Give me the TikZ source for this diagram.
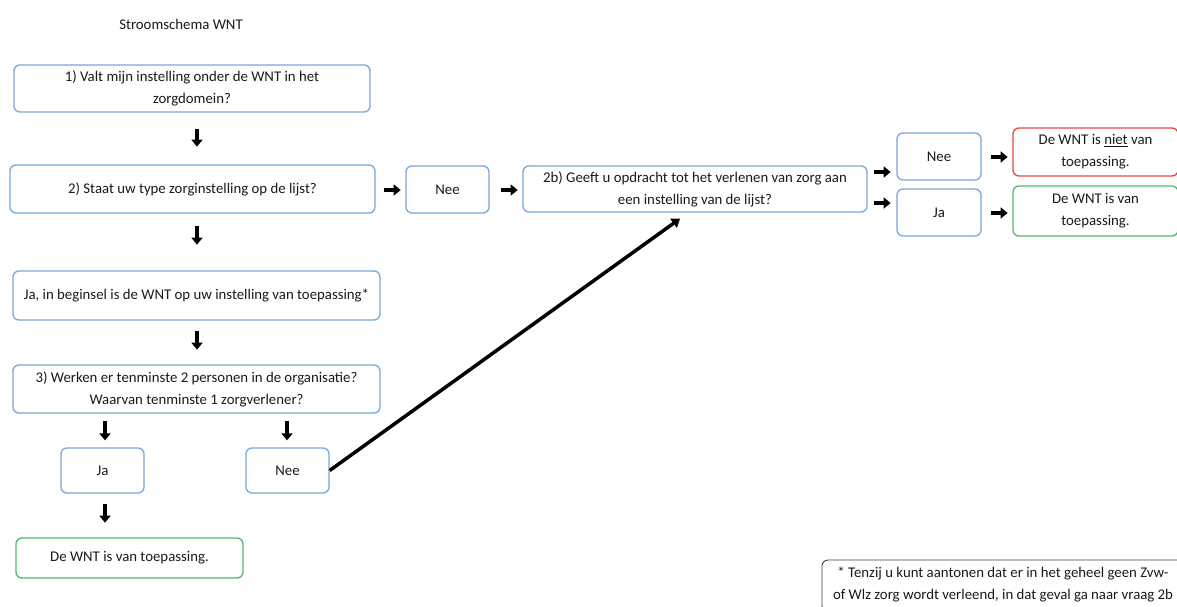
\documentclass[tikz,border=0pt]{standalone}
\usepackage{fontspec}
\setmainfont{Carlito}
\usetikzlibrary{arrows.meta}
\definecolor{boxblue}{RGB}{120,168,218}
\definecolor{boxred}{RGB}{232,70,70}
\definecolor{boxgreen}{RGB}{80,185,110}
\definecolor{inktext}{RGB}{25,25,25}
\begin{document}
\begin{tikzpicture}[x=1pt,y=-1pt,
    box/.style={draw, rounded corners=6pt, line width=1.3pt, inner sep=0pt,
      align=center, text=inktext, font=\fontsize{14.8}{22}\selectfont},
    bluebox/.style={box, draw=boxblue},
    redbox/.style={box, draw=boxred},
    greenbox/.style={box, draw=boxgreen},
    blockarrow/.style={line width=4pt, -{Triangle[length=7pt,width=11pt]}},
    longarrow/.style={line width=3.5pt, -{Triangle[length=8pt,width=11pt]}}]
\useasboundingbox (0,0) rectangle (1177,606);

% Title
\node (title) [text=inktext, font=\fontsize{14.8}{18}\selectfont] at (181,24) {Stroomschema WNT};

% Main column
\node (q1) [bluebox, minimum width=356pt, minimum height=47pt] at (192,88.5)
  {1) Valt mijn instelling onder de WNT in het\\zorgdomein?};
\node (q2) [bluebox, minimum width=365pt, minimum height=48pt] at (192.5,189)
  {2) Staat uw type zorginstelling op de lijst?};
\node (jabegin) [bluebox, minimum width=367pt, minimum height=49pt] at (196.5,295.5)
  {Ja, in beginsel is de WNT op uw instelling van toepassing*};
\node (q3) [bluebox, minimum width=367pt, minimum height=48pt] at (196.5,389)
  {3) Werken er tenminste 2 personen in de organisatie?\\Waarvan tenminste 1 zorgverlener?};
\node (ja3) [bluebox, minimum width=83pt, minimum height=45pt] at (102.5,470.5) {Ja};
\node (nee3) [bluebox, minimum width=83pt, minimum height=45pt] at (287.5,470.5) {Nee};
\node (wel3) [greenbox, minimum width=227pt, minimum height=40pt] at (129.5,558)
  {De WNT is van toepassing.};

% Row of question 2b
\node (nee2) [bluebox, minimum width=83pt, minimum height=47pt] at (447.5,189.5) {Nee};
\node (q2b) [bluebox, minimum width=344pt, minimum height=46pt] at (695,189)
  {2b) Geeft u opdracht tot het verlenen van zorg aan\\een instelling van de lijst?};
\node (nee2b) [bluebox, minimum width=84pt, minimum height=47pt] at (939,156.5) {Nee};
\node (ja2b) [bluebox, minimum width=84pt, minimum height=47pt] at (939,212.5) {Ja};
\node (niet) [redbox, minimum width=165pt, minimum height=48pt] at (1095.5,152)
  {De WNT is \underline{niet} van\\toepassing.};
\node (wel) [greenbox, minimum width=165pt, minimum height=50pt] at (1095.5,211)
  {De WNT is van\\toepassing.};

% Footnote
\node (footnote) [box, draw=black!75, line width=0.9pt, minimum width=362pt, minimum height=52pt,
  text depth=5pt] at (1003,586)
  {* Tenzij u kunt aantonen dat er in het geheel geen Zvw-\\of Wlz zorg wordt verleend, in dat geval ga naar vraag 2b};

% Block arrows down
\draw[blockarrow] (q1.south) ++(5,16) -- ++(0,18);
\draw[blockarrow] (q2.south) ++(4.5,12) -- ++(0,19);
\draw[blockarrow] (jabegin.south) ++(0.5,10) -- ++(0,19);
\draw[blockarrow] (ja3.north) ++(2.5,-26) -- ++(0,19);
\draw[blockarrow] (nee3.north) ++(-0.5,-26) -- ++(0,19);
\draw[blockarrow] (ja3.south) ++(2.5,10) -- ++(0,19);

% Block arrows right
\draw[blockarrow] (q2.east) ++(8,1) -- ++(17,0);
\draw[blockarrow] (nee2.east) ++(11,0.5) -- ++(17,0);
\draw[blockarrow] (q2b.east) ++(6,-17) -- ++(17,0);
\draw[blockarrow] (q2b.east) ++(6,14) -- ++(17,0);
\draw[blockarrow] (nee2b.east) ++(9,0.5) -- ++(17,0);
\draw[blockarrow] (ja2b.east) ++(9,0.5) -- ++(17,0);

% Nee to question 2b
\draw[longarrow] (nee3.east) -- ([xshift=-15pt,yshift=-6pt]q2b.south);
\end{tikzpicture}
\end{document}
